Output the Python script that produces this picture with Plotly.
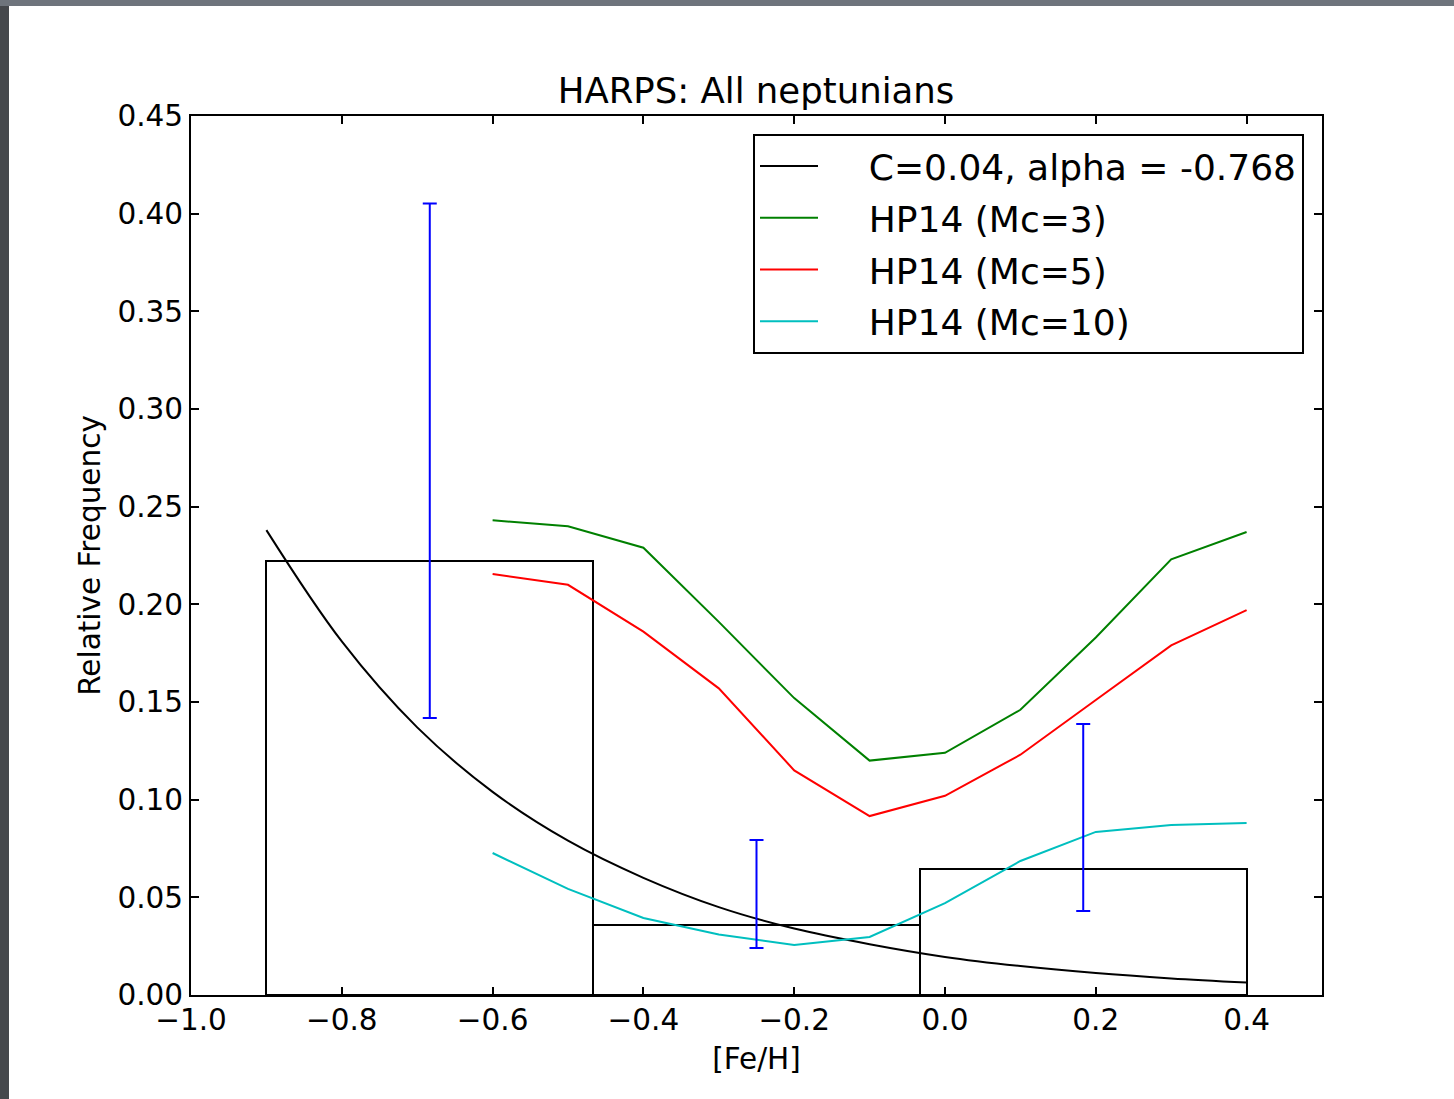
import plotly.graph_objects as go

# ---- data ----
curve_x = [-0.9, -0.8, -0.7, -0.6, -0.5, -0.4, -0.3, -0.2, -0.1, 0.0, 0.1, 0.2, 0.3, 0.4]
curve_y = [0.238, 0.181, 0.137, 0.104, 0.079, 0.060, 0.045, 0.034, 0.026, 0.0195, 0.0148, 0.0112, 0.0085, 0.0064]

hp_x = [-0.6, -0.5, -0.4, -0.3, -0.2, -0.1, 0.0, 0.1, 0.2, 0.3, 0.4]
hp_mc3 = [0.243, 0.240, 0.229, 0.191, 0.152, 0.120, 0.124, 0.146, 0.183, 0.223, 0.237]
hp_mc5 = [0.2155, 0.210, 0.186, 0.157, 0.115, 0.0916, 0.102, 0.123, 0.151, 0.179, 0.197]
hp_mc10 = [0.0727, 0.0543, 0.0394, 0.031, 0.0256, 0.0297, 0.047, 0.0686, 0.0835, 0.087, 0.088]

bin_centers = [-0.68333, -0.25, 0.18333]
bin_width = 0.43333
hist_vals = [0.2222, 0.0357, 0.0645]
err_plus = [0.183, 0.0437, 0.0742]
err_minus = [0.0804, 0.0116, 0.0215]

x_ticks = [-1.0, -0.8, -0.6, -0.4, -0.2, 0.0, 0.2, 0.4]
y_ticks = [0.0, 0.05, 0.10, 0.15, 0.20, 0.25, 0.30, 0.35, 0.40, 0.45]

FONT = "DejaVu Sans"
PAD = "\u00a0" * 4

fig = go.Figure()

fig.add_trace(go.Bar(
    x=bin_centers, y=hist_vals, width=bin_width,
    marker=dict(color="rgba(0,0,0,0)", line=dict(color="black", width=2)),
    showlegend=False, hoverinfo="skip",
))

fig.add_trace(go.Scatter(
    x=curve_x, y=curve_y, mode="lines", line=dict(color="black", width=2, shape="spline"),
    name=PAD + "C=0.04, alpha = -0.768", legendgroup="a",
))
fig.add_trace(go.Scatter(
    x=hp_x, y=hp_mc3, mode="lines", line=dict(color="#008000", width=2),
    name=PAD + "HP14 (Mc=3)", legendgroup="b",
))
fig.add_trace(go.Scatter(
    x=hp_x, y=hp_mc5, mode="lines", line=dict(color="#ff0000", width=2),
    name=PAD + "HP14 (Mc=5)", legendgroup="c",
))
fig.add_trace(go.Scatter(
    x=hp_x, y=hp_mc10, mode="lines", line=dict(color="#00bfbf", width=2),
    name=PAD + "HP14 (Mc=10)", legendgroup="d",
))

fig.add_trace(go.Scatter(
    x=bin_centers, y=hist_vals, mode="markers", marker=dict(size=0.1, color="blue", opacity=0),
    error_y=dict(type="data", symmetric=False, array=err_plus, arrayminus=err_minus,
                 color="#0000ff", thickness=2, width=7),
    showlegend=False, hoverinfo="skip",
))

axis_common = dict(
    showline=True, linecolor="black", linewidth=2, mirror="ticks",
    ticks="inside", ticklen=8, tickwidth=1.5, tickcolor="black",
    showgrid=False, zeroline=False,
    tickfont=dict(family=FONT, size=29.5, color="black"),
)

fig.update_xaxes(
    range=[-1.0, 0.5], tickvals=x_ticks, tickformat=".1f", ticklabelstandoff=-2,
    title=dict(text="[Fe/H]", font=dict(family=FONT, size=29.5, color="black"), standoff=12),
    **axis_common,
)
fig.update_yaxes(
    range=[0, 0.45], tickvals=y_ticks, tickformat=".2f",
    title=dict(text="Relative Frequency", font=dict(family=FONT, size=29.5, color="black"), standoff=8),
    **axis_common,
)

# dark photo frame at top and left
fig.add_shape(type="rect", xref="paper", yref="paper",
              x0=-191/1131, x1=-182/1131, y0=-104/879, y1=1 + 116/879,
              fillcolor="#45484c", line=dict(width=0), layer="above")
fig.add_shape(type="rect", xref="paper", yref="paper",
              x0=-191/1131, x1=1 + 132/1131, y0=1 + 110/879, y1=1 + 116/879,
              fillcolor="#6e747c", line=dict(width=0), layer="above")

fig.update_layout(
    width=1454, height=1099,
    margin=dict(l=191, r=132, t=116, b=104),
    paper_bgcolor="white", plot_bgcolor="white",
    title=dict(text="HARPS: All neptunians", x=(191 + 565) / 1454, xanchor="center",
               y=1 - 91 / 1099, yanchor="middle", yref="container",
               font=dict(family=FONT, size=35.5, color="black")),
    legend=dict(
        x=(1304 - 191) / 1131, xanchor="right", y=(995 - 134) / 879, yanchor="top",
        bgcolor="white", bordercolor="black", borderwidth=2,
        font=dict(family=FONT, size=36, color="black"),
        tracegroupgap=2, itemwidth=58,
    ),
    showlegend=True,
    bargap=0,
)

fig.write_html("out.html")
